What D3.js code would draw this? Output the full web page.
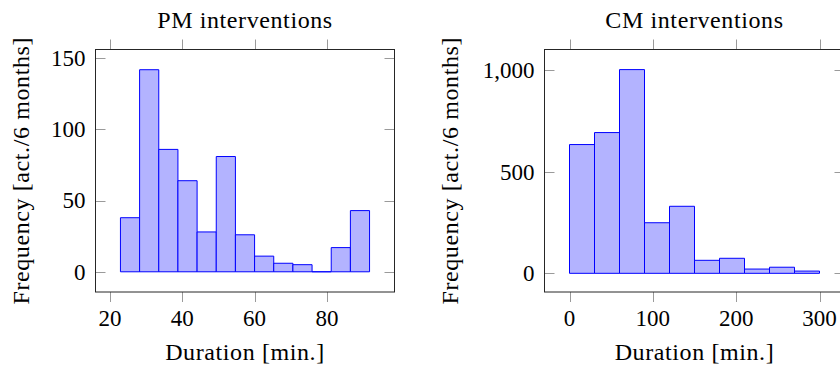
<!DOCTYPE html>
<meta charset="utf-8">
<style>

body {
  margin: 0;
  background: #fff;
}

text {
  font-family: "Liberation Serif", "Times New Roman", Times, "DejaVu Serif", serif;
  fill: #000;
}

.tick-mark {
  stroke: #9a9a9a;
  stroke-width: 1;
}

.frame {
  fill: none;
  stroke: #262626;
  stroke-width: 1;
}

.bar {
  fill: #b3b3ff;
  stroke: #0000ff;
  stroke-width: 1;
}

</style>
<svg width="840" height="371"></svg>
<script src="https://d3js.org/d3.v7.min.js"></script>
<script>

// PM interventions: bin edges (one more than counts) and counts
var pmEdges = [22.9, 28.2, 33.5, 38.8, 44.1, 49.4, 54.7, 60.0, 65.3, 70.6, 75.9, 81.2, 86.5, 91.8];
var pmCounts = [38, 142, 86, 64, 28, 81, 26, 11, 6, 5, 0, 17, 43];
var pmXTicks = [20, 40, 60, 80];
var pmYTicks = [0, 50, 100, 150];

// CM interventions
var cmEdges = [0, 30, 60, 90, 120, 150, 180, 210, 240, 270, 300];
var cmCounts = [634, 693, 1003, 249, 330, 64, 74, 21, 30, 11];
var cmXTicks = [0, 100, 200, 300];
var cmYTicks = [0, 500, 1000];

var svg = d3.select("svg");

var format = d3.format(",");

function drawPanel(opt) {
  var x = d3.scaleLinear().domain(opt.xDomain).range([opt.left, opt.right]);
  var y = d3.scaleLinear().domain(opt.yDomain).range([opt.bottom, opt.top]);
  var g = svg.append("g");

  // bars as paths, so an empty bin still shows its blue baseline
  var bins = opt.counts.map(function(c, i) {
    return {x0: opt.edges[i], x1: opt.edges[i + 1], value: c};
  });
  g.append("g")
    .selectAll("path")
    .data(bins)
    .enter().append("path")
      .attr("class", "bar")
      .attr("d", function(d) {
        var p = d3.path();
        p.moveTo(x(d.x0), y(0));
        p.lineTo(x(d.x0), y(d.value));
        p.lineTo(x(d.x1), y(d.value));
        p.lineTo(x(d.x1), y(0));
        p.closePath();
        return p.toString();
      });

  var tl = 10;
  var px = function(v) { return Math.round(v) + 0.5; };

  // x ticks point outward, top and bottom
  [[opt.bottom, tl], [opt.top, -tl]].forEach(function(s) {
    g.append("g").selectAll("line")
      .data(opt.xTicks)
      .enter().append("line")
        .attr("class", "tick-mark")
        .attr("x1", function(d) { return px(x(d)); })
        .attr("x2", function(d) { return px(x(d)); })
        .attr("y1", s[0])
        .attr("y2", s[0] + s[1]);
  });

  // y ticks point inward, left and right
  [[opt.left, tl], [opt.right, -tl]].forEach(function(s) {
    g.append("g").selectAll("line")
      .data(opt.yTicks)
      .enter().append("line")
        .attr("class", "tick-mark")
        .attr("x1", s[0])
        .attr("x2", s[0] + s[1])
        .attr("y1", function(d) { return px(y(d)); })
        .attr("y2", function(d) { return px(y(d)); });
  });

  g.append("rect")
    .attr("class", "frame")
    .attr("x", opt.left)
    .attr("y", opt.top)
    .attr("width", opt.right - opt.left)
    .attr("height", opt.bottom - opt.top);

  // tick labels
  g.append("g").selectAll("text")
    .data(opt.xTicks)
    .enter().append("text")
      .attr("x", function(d) { return x(d); })
      .attr("y", opt.bottom + 34)
      .attr("text-anchor", "middle")
      .style("font-size", "23px")
      .text(format);
  g.append("g").selectAll("text")
    .data(opt.yTicks)
    .enter().append("text")
      .attr("x", opt.left - 10)
      .attr("y", function(d) { return y(d); })
      .attr("dy", "0.34em")
      .attr("text-anchor", "end")
      .style("font-size", "23px")
      .text(format);

  g.append("text")
    .attr("x", opt.titleX)
    .attr("y", 28)
    .attr("text-anchor", "middle")
    .style("font-size", "24px")
    .style("letter-spacing", "0.6px")
    .text(opt.title);

  g.append("text")
    .attr("x", opt.titleX)
    .attr("y", 360)
    .attr("text-anchor", "middle")
    .style("font-size", "24px")
    .style("letter-spacing", "0.6px")
    .text("Duration [min.]");

  g.append("text")
    .attr("transform", "translate(" + opt.yLabelX + "," + ((opt.top + opt.bottom) / 2) + ") rotate(-90)")
    .attr("text-anchor", "middle")
    .style("font-size", "24px")
    .style("letter-spacing", "0.6px")
    .text("Frequency [act./6 months]");
}

drawPanel({
  edges: pmEdges, counts: pmCounts, xTicks: pmXTicks, yTicks: pmYTicks,
  xDomain: [16.0, 98.7], yDomain: [-14.2, 156.2],
  left: 95.5, right: 394.5, top: 49.5, bottom: 292,
  title: "PM interventions", titleX: 245, yLabelX: 29
});

drawPanel({
  edges: cmEdges, counts: cmCounts, xTicks: cmXTicks, yTicks: cmYTicks,
  xDomain: [-30, 330], yDomain: [-92, 1102],
  left: 544.5, right: 844.5, top: 49.5, bottom: 292,
  title: "CM interventions", titleX: 694.5, yLabelX: 458
});

</script>
